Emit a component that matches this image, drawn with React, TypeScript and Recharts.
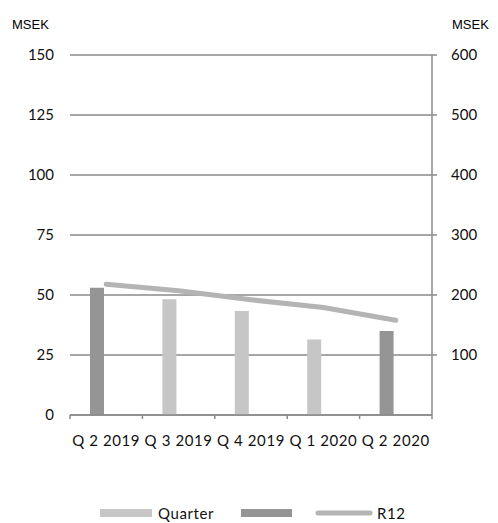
import React from 'react';
import { ComposedChart, Bar, Line, XAxis, YAxis, CartesianGrid } from 'recharts';

const quarters = ['Q 2 2019', 'Q 3 2019', 'Q 4 2019', 'Q 1 2020', 'Q 2 2020'];
const quarterValues = [null, 48.2, 43.3, 31.5, null];
const highlightValues = [53, null, null, null, 35];
const r12Values = [218, 207, 192, 179, 158];
const leftTicks = [0, 25, 50, 75, 100, 125, 150];
const rightTicks = [100, 200, 300, 400, 500, 600];

const chartData = quarters.map((q, i) => ({
  name: q,
  quarter: quarterValues[i],
  highlight: highlightValues[i],
  r12: r12Values[i],
}));

const FONT = 'Lato, "DejaVu Sans", sans-serif';
const GRID = '#8a8a8a';
const LIGHT = '#c6c6c6';
const DARK = '#959595';
const LINE = '#b4b4b4';

const W = 498;
const H = 523;
const MARGIN = { top: 55, right: 6, left: 10, bottom: 68 };
const AXIS_W = 60;
const X_AXIS_H = 40;
const HALF_BAND = (W - MARGIN.left - MARGIN.right - 2 * AXIS_W) / quarters.length / 2;

const XTick = (props: any) => {
  const { x, y, payload, index } = props;
  const isLast = index === quarters.length - 1;
  return (
    <g>
      <line x1={x - HALF_BAND} y1={y - 8} x2={x - HALF_BAND} y2={y - 4} stroke={GRID} strokeWidth={1.5} />
      {isLast && (
        <line x1={x + HALF_BAND} y1={y - 8} x2={x + HALF_BAND} y2={y - 4} stroke={GRID} strokeWidth={1.5} />
      )}
      <text x={x} y={y + 23} textAnchor="middle" fontFamily={FONT} fontSize={15} letterSpacing={0.6} fill="#111">
        {payload.value}
      </text>
    </g>
  );
};

const ChartLegend = () => (
  <svg width={W} height={24} style={{ position: 'absolute', left: 0, top: 500 }}>
    <rect x={100} y={9} width={52} height={8} fill={LIGHT} />
    <text x={158} y={19} fontFamily={FONT} fontSize={15} letterSpacing={0.6} fill="#111">Quarter</text>
    <rect x={241} y={9} width={51} height={8} fill={DARK} />
    <line x1={318} y1={13} x2={370} y2={13} stroke={LINE} strokeWidth={5} strokeLinecap="round" />
    <text x={377} y={19} fontFamily={FONT} fontSize={15} letterSpacing={0.6} fill="#111">R12</text>
  </svg>
);

const App: React.FC = () => {
  return (
    <div style={{ position: 'absolute', left: 0, top: 0, width: W, height: H, background: '#fff' }}>
      <div style={{ position: 'absolute', left: 12, top: 17, fontFamily: 'Liberation Sans, Arial, sans-serif', fontSize: 13 }}>MSEK</div>
      <div style={{ position: 'absolute', left: 452, top: 17, fontFamily: 'Liberation Sans, Arial, sans-serif', fontSize: 13 }}>MSEK</div>
      <ComposedChart width={W} height={H} data={chartData} margin={MARGIN} barSize={14} barGap={5}>
        <CartesianGrid vertical={false} stroke={GRID} strokeWidth={1.5} yAxisId="left" />
        <XAxis
          dataKey="name"
          axisLine={{ stroke: GRID, strokeWidth: 1.5 }}
          tickLine={false}
          tick={<XTick />}
          interval={0}
          height={X_AXIS_H}
        />
        <YAxis
          yAxisId="left"
          domain={[0, 150]}
          ticks={leftTicks}
          axisLine={false}
          tickLine={false}
          width={AXIS_W}
          tick={{ fontFamily: FONT, fontSize: 15, fill: '#111', dx: -8 }}
        />
        <YAxis
          yAxisId="right"
          orientation="right"
          domain={[0, 600]}
          ticks={rightTicks}
          axisLine={{ stroke: GRID, strokeWidth: 1.5 }}
          tickLine={{ stroke: GRID, strokeWidth: 1.5 }}
          tickSize={5}
          width={AXIS_W}
          tick={{ fontFamily: FONT, fontSize: 15, fill: '#111', dx: 12, textAnchor: 'start' }}
        />
        <Bar yAxisId="left" dataKey="highlight" stackId="a" fill={DARK} isAnimationActive={false} />
        <Bar yAxisId="left" dataKey="quarter" stackId="a" fill={LIGHT} isAnimationActive={false} />
        <Bar yAxisId="left" dataKey="spacer" stackId="b" fill="none" isAnimationActive={false} />
        <Line
          yAxisId="right"
          dataKey="r12"
          stroke={LINE}
          strokeWidth={5}
          strokeLinecap="round"
          dot={false}
          activeDot={false}
          isAnimationActive={false}
        />
      </ComposedChart>
      <ChartLegend />
    </div>
  );
};

export default App;
